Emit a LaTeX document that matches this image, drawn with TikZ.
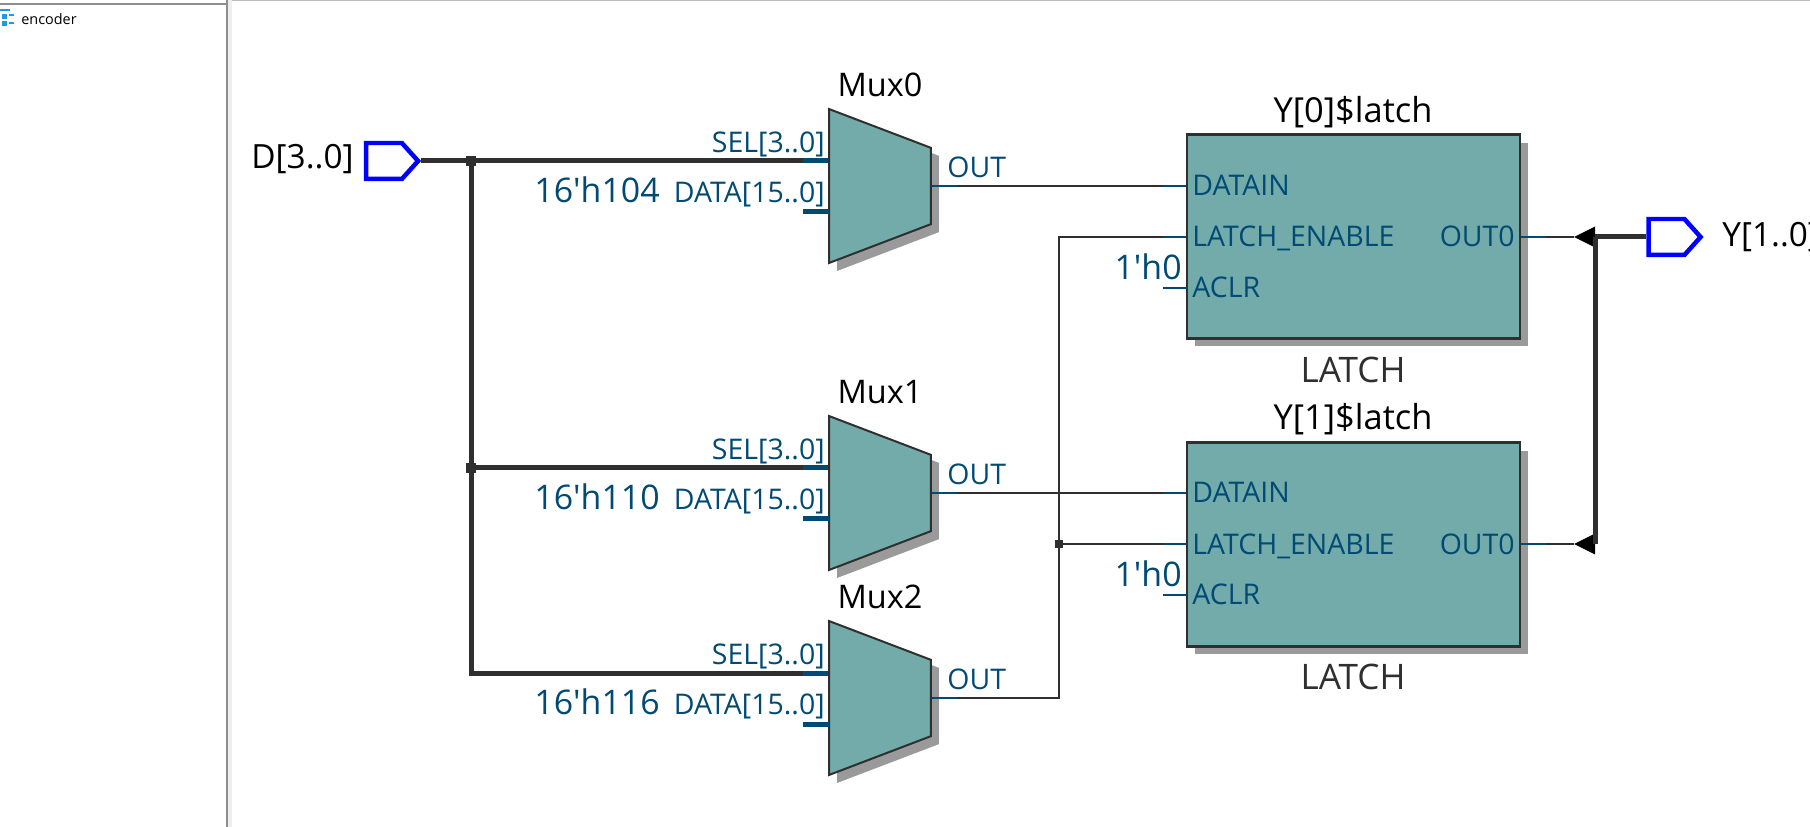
\documentclass[tikz,border=0pt]{standalone}
\usepackage{fontspec}
\usepackage{xcolor}
\setmainfont{Open Sans}
\usetikzlibrary{shapes.geometric, shapes.symbols, shadows}
\definecolor{blockteal}{HTML}{73ABAB}
\definecolor{wiregray}{HTML}{2F2F2F}
\definecolor{pinblue}{HTML}{004A73}
\definecolor{shadegray}{HTML}{9A9A9A}
\definecolor{panelgray}{HTML}{8E8E8E}
\definecolor{iconblue}{HTML}{1E9BE0}
\tikzstyle{wire}     = [line width=0.04cm, draw=wiregray]
\tikzstyle{bus}      = [line width=0.1cm, draw=wiregray]
\tikzstyle{stub}     = [line width=0.04cm, draw=pinblue]
\tikzstyle{busstub}  = [line width=0.1cm, draw=pinblue]
\tikzstyle{offshade} = [drop shadow={shadow xshift=0.16cm, shadow yshift=-0.16cm, fill=shadegray, opacity=1}]
\tikzstyle{muxblock} = [trapezium, shape border rotate=270, trapezium stretches=true, trapezium angle=63,
                        minimum width=3.08cm, minimum height=2.04cm, inner sep=2pt, fill=blockteal,
                        draw=wiregray, line width=0.04cm, offshade]
\tikzstyle{latchblock} = [rectangle, minimum width=6.66cm, minimum height=4.08cm, inner sep=0pt,
                        fill=blockteal, draw=wiregray, line width=0.05cm, offshade]
\tikzstyle{port}     = [signal, signal to=east, signal pointer angle=96, minimum width=1.04cm, minimum height=0.72cm,
                        inner sep=0pt, draw=blue, line width=0.09cm]
\tikzstyle{junction} = [rectangle, fill=wiregray, minimum size=0.2cm, inner sep=0pt]
\tikzstyle{arrowcap} = [isosceles triangle, shape border rotate=180, isosceles triangle stretches=true, fill=black,
                        minimum width=0.42cm, minimum height=0.42cm, inner sep=1pt, outer sep=0pt]
\tikzstyle{title}    = [font=\fontsize{18.5}{23}\selectfont, inner sep=0pt]
\tikzstyle{pinlabel} = [font=\fontsize{16.2}{19}\selectfont, text=pinblue, inner sep=0pt]
\tikzstyle{constval} = [font=\fontsize{19.3}{24}\selectfont, text=pinblue, inner sep=0pt]

\begin{document}
\begin{tikzpicture}[x=0.02cm, y=-0.02cm]
    \useasboundingbox (0, 0) rectangle (1810, 827);

    % side panel
    \fill [panelgray] (0, 3) rectangle (226, 5);
    \fill [panelgray] (226, 0) rectangle (228, 827);
    \fill [panelgray!15] (228, 0) rectangle (232, 827);
    \fill [panelgray!60] (232, 0) rectangle (1810, 1);
    \fill [iconblue] (2, 14) rectangle (7, 19);
    \fill [iconblue] (2, 21) rectangle (7, 26);
    \draw [iconblue, line width=0.03cm] (0, 10) -- (10, 10) (9, 15) -- (14, 15) (9, 23) -- (14, 23);
    \node (encoder) at (21, 19) [anchor=west, inner sep=0pt, font=\fontsize{8.2}{10}\selectfont] {encoder};

    % blocks
    \node (mux0)   at (880, 186) [muxblock] {};
    \node (mux1)   at (880, 493) [muxblock] {};
    \node (mux2)   at (880, 698) [muxblock] {};
    \node (latch0) at (1353.5, 236.5) [latchblock] {};
    \node (latch1) at (1353.5, 544.5) [latchblock] {};
    \node (din)    at (384, 161) [port] {};
    \node (yout)   at (1666.5, 237) [port] {};

    \coordinate (mux0sel) at (803, 161);
    \coordinate (mux1sel) at (803, 468);
    \coordinate (mux2sel) at (803, 673);
    \coordinate (mux0out) at (957, 186);
    \coordinate (mux1out) at (957, 493);
    \coordinate (mux2out) at (957, 698);
    \coordinate (busturn) at (471, 673);
    \coordinate (lenturn) at (1059, 698);
    \coordinate (lentop)  at (1059, 237);
    \coordinate (lat0dat) at (1163, 186);
    \coordinate (lat1dat) at (1163, 493);
    \coordinate (lat0len) at (1163, 237);
    \coordinate (lat1len) at (1163, 544);
    \coordinate (lat0out) at (1546, 237);
    \coordinate (lat1out) at (1546, 544);

    \node (jd0) at (471, 161)  [junction] {};
    \node (jd1) at (471, 468)  [junction] {};
    \node (jen) at (1059, 544) [junction, minimum size=0.16cm] {};
    \node (cap0) at (1589, 237) [arrowcap] {};
    \node (cap1) at (1589, 544) [arrowcap] {};

    % wires
    \draw [bus]  (din) -- (mux0sel);
    \draw [bus]  (jd0) -- (jd1) -- (busturn) -- (mux2sel);
    \draw [bus]  (jd1) -- (mux1sel);
    \draw [wire] (mux0out) -- (lat0dat);
    \draw [wire] (mux1out) -- (lat1dat);
    \draw [wire] (mux2out) -- (lenturn) -- (lentop) -- (lat0len);
    \draw [wire] (jen) -- (lat1len);
    \draw [wire] (lat0out) -- (cap0.west);
    \draw [wire] (lat1out) -- (cap1.west);
    \draw [bus]  (cap0.east) -- (yout.west);
    \draw [bus]  (cap0.east) -- (cap1.east);

    % pin stubs
    \draw [busstub] (mux0sel) -- (mux0sel -| mux0.west);
    \draw [busstub] (mux1sel) -- (mux1sel -| mux1.west);
    \draw [busstub] (mux2sel) -- (mux2sel -| mux2.west);
    \draw [busstub] (803, 212) -- (829, 212);
    \draw [busstub] (803, 519) -- (829, 519);
    \draw [busstub] (803, 724) -- (829, 724);
    \draw [stub] (mux0.east) -- (mux0out);
    \draw [stub] (mux1.east) -- (mux1out);
    \draw [stub] (mux2.east) -- (mux2out);
    \draw [stub] (lat0dat) -- (lat0dat -| latch0.west);
    \draw [stub] (lat1dat) -- (lat1dat -| latch1.west);
    \draw [stub] (lat0len) -- (lat0len -| latch0.west);
    \draw [stub] (lat1len) -- (lat1len -| latch1.west);
    \draw [stub] (1163, 288) -- (1187, 288);
    \draw [stub] (1163, 595) -- (1187, 595);
    \draw [stub] (lat0out -| latch0.east) -- (lat0out);
    \draw [stub] (lat1out -| latch1.east) -- (lat1out);

    % texts
    \node (dlabel) at (354, 159)  [title, font=\fontsize{19}{23}\selectfont, anchor=east] {D[3..0]};
    \node (ylabel) at (1722, 237) [title, font=\fontsize{19}{23}\selectfont, anchor=west] {Y[1..0]};
    \node (mux0name) at (880, 85)  [title] {Mux0};
    \node (mux1name) at (880, 392) [title] {Mux1};
    \node (mux2name) at (880, 597) [title] {Mux2};
    \node (lat0name) at (1353, 112) [title, font=\fontsize{19.6}{23}\selectfont] {Y[0]\$latch};
    \node (lat1name) at (1353, 419) [title, font=\fontsize{19.6}{23}\selectfont] {Y[1]\$latch};
    \node (lat0type) at (1353, 370) [title, font=\fontsize{20}{24}\selectfont, text=wiregray] {LATCH};
    \node (lat1type) at (1353, 677) [title, font=\fontsize{20}{24}\selectfont, text=wiregray] {LATCH};

    \node (sel0) at (825, 144) [pinlabel, anchor=east] {SEL[3..0]};
    \node (sel1) at (825, 451) [pinlabel, anchor=east] {SEL[3..0]};
    \node (sel2) at (825, 656) [pinlabel, anchor=east] {SEL[3..0]};
    \node (dat0) at (825, 194) [pinlabel, anchor=east] {DATA[15..0]};
    \node (dat1) at (825, 501) [pinlabel, anchor=east] {DATA[15..0]};
    \node (dat2) at (825, 706) [pinlabel, anchor=east] {DATA[15..0]};
    \node (val0) at (660, 190) [constval, anchor=east] {16\textquotesingle h104};
    \node (val1) at (660, 497) [constval, anchor=east] {16\textquotesingle h110};
    \node (val2) at (660, 702) [constval, anchor=east] {16\textquotesingle h116};
    \node (out0) at (947, 167) [pinlabel, anchor=west] {OUT};
    \node (out1) at (947, 474) [pinlabel, anchor=west] {OUT};
    \node (out2) at (947, 679) [pinlabel, anchor=west] {OUT};

    \node (dain0) at (1192, 185) [pinlabel, anchor=west] {DATAIN};
    \node (dain1) at (1192, 492) [pinlabel, anchor=west] {DATAIN};
    \node (len0)  at (1192, 238) [pinlabel, anchor=west] {LATCH\_ENABLE};
    \node (len1)  at (1192, 546) [pinlabel, anchor=west] {LATCH\_ENABLE};
    \node (clr0)  at (1192, 287) [pinlabel, anchor=west] {ACLR};
    \node (clr1)  at (1192, 594) [pinlabel, anchor=west] {ACLR};
    \node (oq0)   at (1515, 236) [pinlabel, anchor=east] {OUT0};
    \node (oq1)   at (1515, 544) [pinlabel, anchor=east] {OUT0};
    \node (zero0) at (1182, 267) [constval, anchor=east] {1\textquotesingle h0};
    \node (zero1) at (1182, 574) [constval, anchor=east] {1\textquotesingle h0};
\end{tikzpicture}
\end{document}
